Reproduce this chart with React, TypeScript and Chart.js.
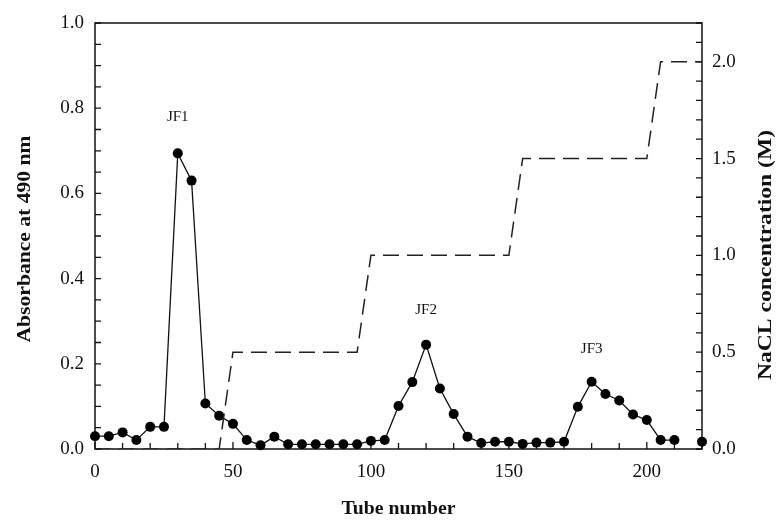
import React, { useEffect, useRef } from "react";
import { Chart, registerables } from "chart.js";

Chart.register(...registerables);

// ---- data ----
const tubes = [
  0, 5, 10, 15, 20, 25, 30, 35, 40, 45, 50, 55, 60, 65, 70, 75, 80, 85, 90, 95,
  100, 105, 110, 115, 120, 125, 130, 135, 140, 145, 150, 155, 160, 165, 170, 175,
  180, 185, 190, 195, 200, 205, 210, 215, 220,
];
const absorbance: (number | null)[] = [
  0.030, 0.030, 0.039, 0.021, 0.052, 0.052, 0.694, 0.630, 0.107, 0.078, 0.059, 0.021,
  0.009, 0.029, 0.011, 0.011, 0.011, 0.011, 0.011, 0.011,
  0.019, 0.021, 0.101, 0.157, 0.245, 0.142, 0.082, 0.029, 0.014, 0.017, 0.017, 0.012,
  0.015, 0.015, 0.017, 0.099, 0.158, 0.129, 0.114, 0.081, 0.068, 0.021, 0.021, null, 0.017,
];
const naclTubes = [0, 45, 50, 95, 100, 150, 155, 200, 205, 220];
const naclConc = [0, 0, 0.5, 0.5, 1.0, 1.0, 1.5, 1.5, 2.0, 2.0];
const peakLabels = ["JF1", "JF2", "JF3"];
const peakTubes = [30, 120, 180];
const peakLabelY = [0.78, 0.325, 0.235];

const SERIF = '"Liberation Serif", "Times New Roman", serif';
const INK = "#111111";

function drawStretchedText(
  ctx: CanvasRenderingContext2D,
  text: string,
  cx: number,
  cy: number,
  rot: number,
  targetLen: number,
  font: string
) {
  ctx.save();
  ctx.font = font;
  ctx.translate(cx, cy);
  ctx.rotate(rot);
  const w = ctx.measureText(text).width;
  ctx.scale(targetLen / w, 1);
  ctx.textAlign = "center";
  ctx.textBaseline = "middle";
  ctx.fillStyle = INK;
  ctx.fillText(text, 0, 0);
  ctx.restore();
}

const framePlugin = {
  id: "frame",
  beforeDatasetsDraw(chart: any) {
    const { ctx, chartArea: a, scales } = chart;
    ctx.save();
    ctx.strokeStyle = INK;
    ctx.lineWidth = 1.5;
    ctx.strokeRect(a.left, a.top, a.right - a.left, a.bottom - a.top);
    ctx.lineWidth = 1.3;
    ctx.beginPath();
    for (let v = 0; v <= 220; v += 10) {
      const px = scales.x.getPixelForValue(v);
      const len = v % 50 === 0 ? 7 : 6;
      ctx.moveTo(px, a.bottom);
      ctx.lineTo(px, a.bottom - len);
    }
    for (let i = 0; i <= 20; i++) {
      const py = scales.y.getPixelForValue(i * 0.05);
      ctx.moveTo(a.left, py);
      ctx.lineTo(a.left + 6, py);
    }
    for (let i = 0; i <= 22; i++) {
      const py = scales.y2.getPixelForValue(i * 0.1);
      ctx.moveTo(a.right, py);
      ctx.lineTo(a.right - 6, py);
    }
    ctx.stroke();
    ctx.restore();
  },
  afterDraw(chart: any) {
    const { ctx, chartArea: a, scales } = chart;
    const bold = `bold 19px ${SERIF}`;
    drawStretchedText(ctx, "Tube number", (a.left + a.right) / 2, 509, 0, 114, bold);
    drawStretchedText(ctx, "Absorbance at 490 nm", 25, (a.top + a.bottom) / 2 + 3, -Math.PI / 2, 207, bold);
    drawStretchedText(ctx, "NaCL concentration (M)", 766, (a.top + a.bottom) / 2 + 19, -Math.PI / 2, 250, bold);
    ctx.save();
    ctx.font = `15px ${SERIF}`;
    ctx.fillStyle = INK;
    ctx.textAlign = "center";
    ctx.textBaseline = "middle";
    peakLabels.forEach((t, i) => {
      ctx.fillText(t, scales.x.getPixelForValue(peakTubes[i]), scales.y.getPixelForValue(peakLabelY[i]));
    });
    ctx.restore();
  },
};

export default function App() {
  const ref = useRef<HTMLCanvasElement | null>(null);
  useEffect(() => {
    if (!ref.current) return;
    const absPoints = tubes.map((t, i) => ({ x: t, y: absorbance[i] }));
    const naclPoints = naclTubes.map((t, i) => ({ x: t, y: naclConc[i] }));
    const tickFont = { family: SERIF, size: 19 };
    const chart = new Chart(ref.current, {
      type: "line",
      data: {
        datasets: [
          {
            label: "NaCl",
            data: naclPoints,
            yAxisID: "y2",
            borderColor: "#222222",
            borderWidth: 1.5,
            borderDash: [16, 8],
            pointRadius: 0,
            fill: false,
            tension: 0,
          },
          {
            label: "Absorbance",
            data: absPoints as any,
            yAxisID: "y",
            borderColor: INK,
            borderWidth: 1.3,
            pointRadius: 5,
            pointBackgroundColor: "#000000",
            pointBorderColor: "#000000",
            pointBorderWidth: 0,
            spanGaps: false,
            fill: false,
            tension: 0,
            clip: false as any,
          },
        ],
      },
      options: {
        animation: false,
        responsive: true,
        maintainAspectRatio: false,
        layout: { padding: { top: 23, left: 0, right: 0, bottom: 0 } },
        plugins: { legend: { display: false }, tooltip: { enabled: false } },
        scales: {
          x: {
            type: "linear",
            min: 0,
            max: 220,
            grid: { display: false, drawTicks: false },
            border: { display: false },
            ticks: {
              stepSize: 50,
              includeBounds: false,
              autoSkip: false,
              maxRotation: 0,
              padding: 12,
              font: tickFont,
              color: INK,
            },
            afterFit: (s: any) => {
              s.height = 71;
            },
          },
          y: {
            type: "linear",
            position: "left",
            min: 0,
            max: 1.0,
            grid: { display: false, drawTicks: false },
            border: { display: false },
            ticks: {
              stepSize: 0.2,
              padding: 11,
              font: tickFont,
              color: INK,
              callback: (v: any) => Number(v).toFixed(1),
            },
            afterFit: (s: any) => {
              s.width = 95;
            },
          },
          y2: {
            type: "linear",
            position: "right",
            min: 0,
            max: 2.2,
            grid: { display: false, drawTicks: false },
            border: { display: false },
            ticks: {
              stepSize: 0.5,
              includeBounds: false,
              padding: 10,
              font: tickFont,
              color: INK,
              callback: (v: any) => Number(v).toFixed(1),
            },
            afterFit: (s: any) => {
              s.width = 76;
            },
          },
        },
      },
      plugins: [framePlugin],
    });
    return () => chart.destroy();
  }, []);
  return (
    <div style={{ position: "absolute", left: 0, top: 0, width: 778, height: 520, background: "#fff" }}>
      <canvas ref={ref} />
    </div>
  );
}
